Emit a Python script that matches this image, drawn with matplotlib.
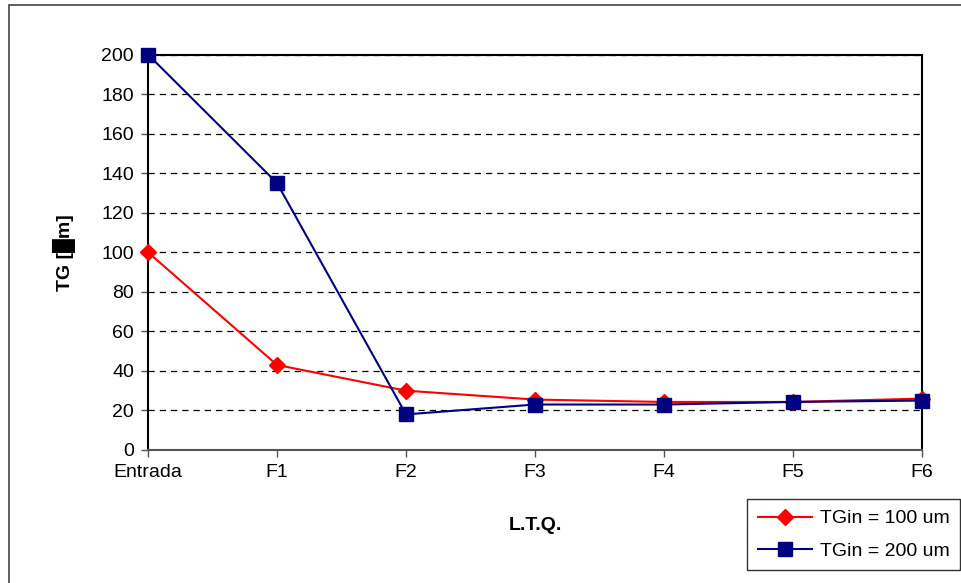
import matplotlib.pyplot as plt
from matplotlib.patches import Rectangle

plt.rcParams['font.family'] = ['Liberation Sans', 'DejaVu Sans']

stages = ['Entrada', 'F1', 'F2', 'F3', 'F4', 'F5', 'F6']
tg_100 = [100, 43, 30, 25.5, 24.3, 24.3, 26]
tg_200 = [200, 135, 18, 23, 23, 24.3, 25]
y_ticks = [0, 20, 40, 60, 80, 100, 120, 140, 160, 180, 200]

fig = plt.figure(figsize=(9.61, 5.83), dpi=100)
ax = fig.add_axes([148 / 961, 1 - 450 / 583, (922 - 148) / 961, (450 - 54.5) / 583])

x = list(range(len(stages)))
ax.plot(x, tg_100, color='#ff0000', lw=1.5, marker='D', ms=8,
        mfc='#ff0000', mec='#ff0000', label='TGin = 100 um', zorder=3, clip_on=False)
ax.plot(x, tg_200, color='#000080', lw=1.5, marker='s', ms=10,
        mfc='#000080', mec='#000080', label='TGin = 200 um', zorder=4, clip_on=False)

ax.set_xlim(0, len(stages) - 1)
ax.set_ylim(0, 200)
ax.set_xticks(x)
ax.set_xticklabels(stages)
ax.set_yticks(y_ticks)
ax.yaxis.grid(True, linestyle=(0, (5, 4)), color='black', lw=0.9)
ax.set_axisbelow(True)

for s in ax.spines.values():
    s.set_color('black')
    s.set_linewidth(1.5)
ax.spines['bottom'].set_color('#555555')

ax.tick_params(axis='both', labelsize=14, direction='out', length=5, width=1,
               colors='#555555', labelcolor='black', pad=5)

ax.set_xlabel('L.T.Q.', fontsize=14, fontweight='bold', labelpad=26)
ax.set_ylabel('TG [\u2588m]', fontsize=14, fontweight='bold', labelpad=18)

leg = fig.legend(loc='upper left', bbox_to_anchor=(747 / 961, 1 - 499 / 583),
                 fontsize=14, frameon=True, fancybox=False, edgecolor='black',
                 handlelength=2.8, borderaxespad=0, labelspacing=0.75,
                 borderpad=0.55, handletextpad=0.4)
leg.get_frame().set_linewidth(1.0)

# chart area border
fig.patches.append(Rectangle((9 / 961, -0.01), 1.1, 1 - 5 / 583 + 0.01,
                             transform=fig.transFigure, fill=False,
                             edgecolor='#444444', lw=1.2))

fig.savefig('out.png', dpi=100)
